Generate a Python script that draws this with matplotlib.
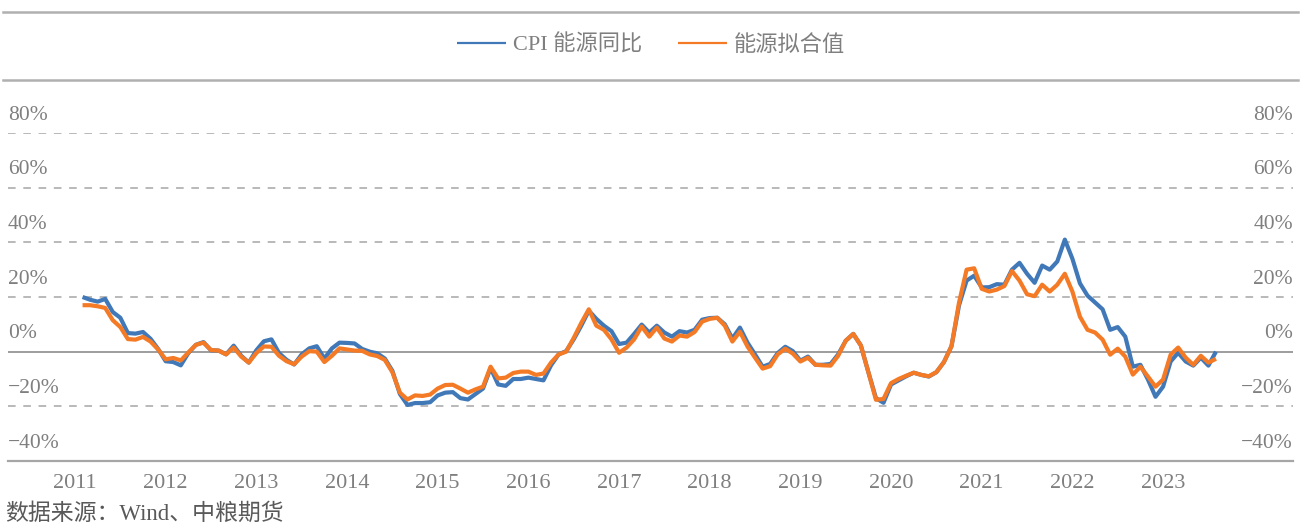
import matplotlib
matplotlib.use("Agg")
import matplotlib.pyplot as plt
from matplotlib.lines import Line2D
import numpy as np

plt.rcParams['font.family'] = ['Liberation Serif', 'Noto Sans CJK SC', 'DejaVu Sans']

# ---- data (monthly, Feb 2011 .. Aug 2023) ----
start_month = 1  # months after Jan 2011
cpi_energy = [
    20.0, 19.0, 18.3, 19.3, 14.5, 12.4, 6.8, 6.6, 7.2, 4.7, 1.0,          # 2011 Feb-Dec
    -3.5, -3.8, -5.0, -0.5, 2.5, 3.5, 0.5, 0.4, -1.0, 2.2, -1.5, -4.0,     # 2012
    0.5, 3.8, 4.5, -0.5, -3.0, -4.7, -1.0, 1.2, 2.0, -2.5, 1.2, 3.3,      # 2013
    3.2, 3.0, 1.0, 0.0, -0.6, -2.5, -7.0, -15.5, -19.5, -18.8, -18.8, -18.5,  # 2014
    -16.0, -15.0, -14.8, -17.0, -17.5, -15.5, -13.5, -6.0, -12.0, -12.5, -10.0, -10.0,  # 2015
    -9.5, -10.0, -10.5, -5.0, -1.0, 0.2, 4.5, 9.5, 15.0, 12.0, 9.5, 7.5,  # 2016
    2.8, 3.3, 6.5, 9.9, 7.0, 9.5, 7.0, 5.5, 7.5, 7.0, 8.0, 11.7,          # 2017
    12.3, 12.4, 10.0, 4.8, 8.8, 3.3, -1.0, -5.5, -4.5, -0.5, 1.8, 0.2,    # 2018
    -3.3, -1.8, -4.8, -4.8, -4.5, -1.0, 4.0, 6.5, 2.3, -7.5, -17.0, -18.7,  # 2019
    -12.0, -10.5, -9.0, -7.7, -8.5, -9.1, -7.5, -3.8, 2.0, 17.0, 26.0, 27.8,  # 2020
    23.5, 23.6, 24.7, 24.5, 30.0, 32.5, 28.5, 25.2, 31.5, 30.0, 33.0, 41.0,  # 2021
    34.0, 25.0, 20.5, 18.0, 15.5, 8.0, 9.0, 5.5, -5.5, -4.8, -10.2, -16.5,  # 2022
    -12.8, -3.6, -0.4, -3.6, -5.1, -2.2, -5.1, 0.0,                       # 2023 Jan-Aug
]
energy_fit = [
    17.0, 17.0, 16.6, 16.0, 11.5, 9.0, 4.6, 4.4, 5.4, 3.7, 0.8,
    -2.8, -2.3, -3.2, -0.3, 2.5, 3.3, 0.6, 0.4, -1.0, 1.5, -1.8, -4.0,
    -0.5, 1.9, 1.8, -1.5, -3.5, -4.6, -1.8, 0.2, 0.0, -3.8, -1.5, 1.2,
    0.8, 0.4, 0.3, -1.0, -1.6, -3.0, -7.5, -15.0, -17.5, -16.0, -16.2, -15.7,
    -13.5, -12.2, -12.1, -13.5, -15.0, -13.8, -12.8, -5.5, -9.8, -9.5, -7.8, -7.3,
    -7.3, -8.5, -8.0, -4.0, -1.0, 0.0, 5.0, 10.5, 15.5, 9.5, 8.0, 4.5,
    -0.4, 1.5, 4.5, 9.2, 5.5, 8.8, 4.8, 3.7, 5.9, 5.5, 7.2, 11.0,
    12.0, 12.4, 9.5, 3.7, 7.3, 1.9, -2.2, -6.2, -5.3, -1.0, 1.1, -0.7,
    -3.6, -2.2, -4.8, -5.0, -5.1, -1.5, 4.0, 6.5, 2.3, -7.5, -17.6, -17.3,
    -11.5, -10.0, -8.8, -7.7, -8.5, -9.0, -7.5, -3.8, 2.0, 18.0, 30.0, 30.5,
    23.0, 22.0, 22.7, 24.0, 29.5, 26.0, 21.0, 20.3, 24.5, 22.0, 24.5, 28.5,
    22.0, 12.8, 8.0, 7.0, 4.4, -1.1, 1.1, -1.8, -8.4, -5.5, -9.1, -12.8,
    -10.2, -1.1, 1.5, -2.2, -4.8, -1.5, -4.0, -2.6,
]
years = [str(y) for y in range(2011, 2024)]
yticks = [-40, -20, 0, 20, 40, 60, 80]
series_names = ["CPI 能源同比", "能源拟合值"]
source_text = "数据来源：Wind、中粮期货"

# ---- style ----
BLUE = "#4078b8"
ORANGE = "#f47a26"
TXT = "#7f7f7f"
GRID = "#a6a6a6"

W, H = 1302, 525
fig = plt.figure(figsize=(W / 100, H / 100), dpi=100)
ax = fig.add_axes([8 / W, (H - 461) / H, (1293 - 8) / W, (461 - 133) / H])

x = np.arange(start_month, start_month + len(cpi_energy))
ax.plot(x, cpi_energy, color=BLUE, lw=3.0, solid_joinstyle='round',
        solid_capstyle='butt', label=series_names[0], zorder=3)
ax.plot(x, energy_fit, color=ORANGE, lw=3.0, solid_joinstyle='round',
        solid_capstyle='butt', label=series_names[1], zorder=4)

px_per_month = 7.556
ax.set_xlim((8 - 75) / px_per_month, (1293 - 75) / px_per_month)
ax.set_ylim(-40, 80)

# gridlines
for v in yticks:
    if v == 0:
        ax.axhline(v, color="#8c8c8c", lw=1.2, zorder=2)
    elif v == -40:
        continue
    else:
        ax.axhline(v, color=GRID, lw=1.1, ls=(0, (5, 5)), zorder=1)

for s in ['top', 'right', 'left']:
    ax.spines[s].set_visible(False)
ax.spines['bottom'].set_color("#a6a6a6")
ax.spines['bottom'].set_linewidth(1.6)

ax.set_yticks([])
ax.set_xticks([12 * i for i in range(len(years))])
ax.set_xticklabels(years, fontsize=16, color=TXT)
ax.tick_params(axis='x', length=0, pad=9)

def fmt(v):
    return ("\u2212" if v < 0 else "") + f"{abs(v)}%"

for v in yticks:
    ax.annotate(fmt(v), xy=(0, v), xycoords=('axes fraction', 'data'),
                xytext=(0, 12.8), textcoords='offset points',
                ha='left', va='center', fontsize=15.5, color=TXT)
    ax.annotate(fmt(v), xy=(1, v), xycoords=('axes fraction', 'data'),
                xytext=(0, 12.8), textcoords='offset points',
                ha='right', va='center', fontsize=15.5, color=TXT)

# legend
leg = fig.legend(loc='center', bbox_to_anchor=(651 / W, 1 - 45 / H), ncol=2,
                 frameon=False, fontsize=16, handlelength=2.2, handletextpad=0.3,
                 columnspacing=1.6, labelcolor=TXT)
for ln in leg.get_lines():
    ln.set_linewidth(1.6)

# decorative horizontal rules
for yy in (12, 80):
    fig.add_artist(Line2D([3 / W, 1298 / W], [1 - yy / H, 1 - yy / H],
                          transform=fig.transFigure, color="#b0b0b0", lw=1.8))

fig.text(5 / W, 1 - 514 / H, source_text, fontsize=16.5, color="#595959",
         ha='left', va='center')

fig.savefig("out.png", dpi=100)
